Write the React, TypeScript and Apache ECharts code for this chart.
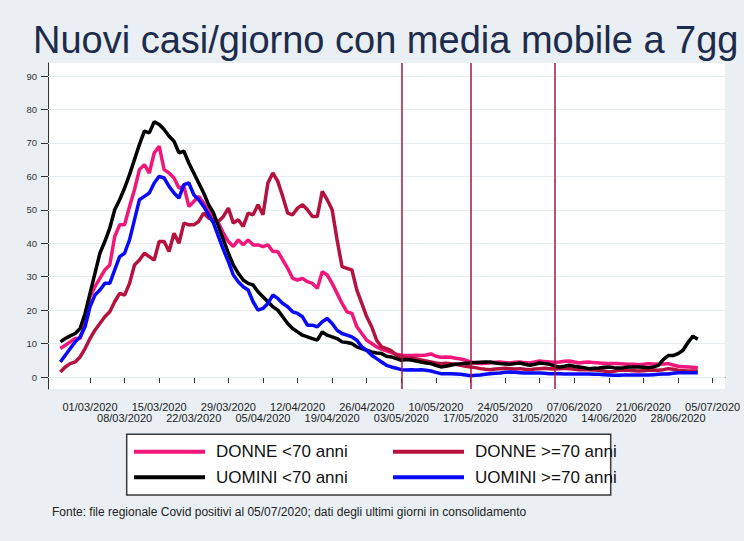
import React, { useEffect, useRef } from 'react';
import * as echarts from 'echarts';

const FONT = '"Liberation Sans", Arial, Helvetica, sans-serif';

const TITLE = 'Nuovi casi/giorno con media mobile a 7gg';
const FOOTER = 'Fonte: file regionale Covid positivi al 05/07/2020; dati degli ultimi giorni in consolidamento';

// axis runs day by day from 22/02/2020 to 07/07/2020
const AXIS_FIRST_DAY = { y: 2020, m: 2, d: 22 };
const AXIS_DAY_COUNT = 137;
// series values start on this day
const DATA_START = '24/02/2020';

const TICK_LABELS = [
  '01/03/2020', '08/03/2020', '15/03/2020', '22/03/2020', '29/03/2020',
  '05/04/2020', '12/04/2020', '19/04/2020', '26/04/2020', '03/05/2020',
  '10/05/2020', '17/05/2020', '24/05/2020', '31/05/2020', '07/06/2020',
  '14/06/2020', '21/06/2020', '28/06/2020', '05/07/2020',
];

const EVENT_DATES = ['03/05/2020', '17/05/2020', '03/06/2020'];

const SERIES_NAMES = ['DONNE <70 anni', 'DONNE >=70 anni', 'UOMINI <70 anni', 'UOMINI >=70 anni'];
const SERIES_COLORS = ['#f2157a', '#b5123f', '#000000', '#0a0afa'];

const DONNE_U70 = [
  8.5, 9.5, 10.5, 11.5, 11.5, 16,
  24, 27, 29.5, 32, 33.5, 42, 45.5, 45.5, 51, 56,
  62, 63.5, 61, 67, 69, 62, 61, 59.5, 56.5, 57,
  51, 52.5, 54, 52, 49.5, 48, 46, 43, 40.5, 39,
  41, 39.5, 41, 39.5, 39.5, 39, 39.5, 37.5, 37.5, 35,
  32.5, 29.5, 29, 29.5, 28.5, 28, 26.5, 31.5, 30.5, 28,
  25, 22, 19.5, 19, 15, 13, 11, 10, 9, 8.3,
  7.8, 7.3, 6.8, 6.5, 6.4, 6.4, 6.5, 6.4, 6.6, 6.9,
  6.2, 5.9, 6, 5.9, 5.6, 5.4, 5, 4.5, 4.2, 4,
  4.1, 4.2, 4.4, 4.5, 4.3, 4.2, 4.4, 4.5, 4.3, 4.2,
  4.5, 4.8, 4.6, 4.5, 4.4, 4.5, 4.7, 4.8, 4.5, 4.2,
  4.4, 4.5, 4.3, 4.2, 4.1, 4, 4, 4, 3.9, 3.8,
  3.8, 3.7, 3.8, 4, 3.9, 3.8, 3.9, 4, 3.6, 3.2,
  3.1, 3, 2.9, 2.8,
];

const DONNE_O70 = [
  1.5, 3, 4, 4.5, 6, 8.5,
  11.5, 14, 16, 18, 19.5, 22.5, 25, 24.5, 28, 33.5,
  35, 37, 36, 35, 40.5, 40.5, 37.5, 43, 40, 46,
  45.5, 45.5, 46.5, 49, 47.5, 47, 46.5, 48, 50.5, 46,
  47, 45, 49, 48.5, 51.5, 48.5, 58, 61, 58.5, 54,
  49, 48.5, 50.5, 51.5, 50, 48, 48, 55.5, 53, 50,
  41, 33, 32.5, 32, 26, 22, 18, 15, 11, 9,
  8.5, 7.8, 6.5, 6, 5.6, 5.7, 5.4, 5.1, 4.8, 4.5,
  4.2, 4, 4.1, 4, 3.8, 3.5, 3.2, 3, 2.8, 2.5,
  2.3, 2.2, 2.4, 2.5, 2.6, 2.5, 2.4, 2.5, 2.3, 2.2,
  2.4, 2.5, 2.6, 2.5, 2.4, 2.5, 2.6, 2.5, 2.3, 2.2,
  2.2, 2.2, 2.1, 2, 1.8, 1.5, 1.7, 2, 2.1, 2,
  1.9, 1.8, 1.9, 2, 2.1, 2, 2.2, 2.5, 2.3, 2,
  1.9, 1.8, 1.8, 1.8,
];

const UOMINI_U70 = [
  10.5, 11.5, 12.3, 13, 14.5, 19,
  25, 31, 37, 40.5, 44.5, 50, 53, 56.5, 60.5, 65,
  69.5, 73.5, 73, 76.3, 75.5, 74, 72, 70.5, 67, 67.5,
  64, 61, 58, 55, 51.5, 49, 45, 41, 37, 33.5,
  31, 29, 28, 27.5, 25.5, 24, 22.5, 21, 20, 18,
  16, 14.5, 13.5, 12.5, 12, 11.5, 11, 13.5, 12.5, 12,
  11.5, 10.5, 10.3, 10, 9, 8.5, 8, 7.5, 7.2, 7,
  6.2, 6, 5.5, 5, 5.2, 5.1, 4.8, 4.5, 4.2, 4,
  3.5, 3, 3.2, 3.5, 3.8, 4, 4.1, 4.2, 4.3, 4.4,
  4.5, 4.5, 4.2, 4, 3.9, 3.8, 4, 4.2, 3.8, 3.5,
  3.8, 4.2, 4, 3.8, 3.3, 3, 3.2, 3.5, 3.2, 3,
  2.8, 2.5, 2.6, 2.7, 2.9, 3, 2.8, 2.7, 2.8, 3,
  3, 3, 2.9, 2.8, 3, 3.5, 5.2, 6.4, 6.4, 7,
  8, 10.3, 12.2, 11.3,
];

const UOMINI_O70 = [
  4.5, 6.5, 8.5, 10.5, 12, 15,
  21, 24.5, 26, 28, 28, 32, 36, 37, 41, 47,
  53, 54, 55, 58, 60, 59.5, 57, 55, 53.5, 57.5,
  58, 54.5, 53, 51, 48.5, 46, 42, 38, 34.5, 30.5,
  28.5, 27, 26, 22.5, 20, 20.5, 22, 24.5, 23.5, 22,
  21, 19.5, 19, 18, 15.5, 15.5, 15, 16.5, 17.5, 16,
  14, 13, 12.5, 12, 11, 9, 8, 6.5, 5.5, 4.5,
  3.5, 3, 2.6, 2.2, 2.1, 2.2, 2.1, 2.2, 2, 1.8,
  1.4, 1, 1, 1, 0.9, 0.8, 0.6, 0.4, 0.5, 0.6,
  0.8, 1, 1.1, 1.2, 1.4, 1.5, 1.4, 1.3, 1.2, 1.2,
  1.2, 1.2, 1.1, 1, 1, 1, 0.9, 0.9, 0.9, 0.9,
  0.9, 0.9, 0.8, 0.8, 0.7, 0.6, 0.5, 0.5, 0.6, 0.6,
  0.6, 0.6, 0.6, 0.6, 0.7, 0.8, 0.9, 0.9, 1.1, 1.3,
  1.3, 1.3, 1.3, 1.3,
];

const SERIES_VALUES = [DONNE_U70, DONNE_O70, UOMINI_U70, UOMINI_O70];

const pad = (n: number) => (n < 10 ? '0' + n : '' + n);

function buildCategories(): string[] {
  const out: string[] = [];
  const start = new Date(AXIS_FIRST_DAY.y, AXIS_FIRST_DAY.m - 1, AXIS_FIRST_DAY.d, 12);
  for (let i = 0; i < AXIS_DAY_COUNT; i++) {
    const dt = new Date(start.getTime());
    dt.setDate(start.getDate() + i);
    out.push(pad(dt.getDate()) + '/' + pad(dt.getMonth() + 1) + '/' + dt.getFullYear());
  }
  return out;
}

export default function App() {
  const ref = useRef<HTMLDivElement>(null);

  useEffect(() => {
    if (!ref.current) return;
    const chart = echarts.init(ref.current, null, { renderer: 'svg' });

    const categories = buildCategories();
    const offset = categories.indexOf(DATA_START);
    const isTick = (index: number, value: string) => TICK_LABELS.indexOf(value) >= 0;
    const isUpperLabel = (index: number, value: string) => {
      const k = TICK_LABELS.indexOf(value);
      return k >= 0 && k % 2 === 0;
    };
    const isLowerLabel = (index: number, value: string) => {
      const k = TICK_LABELS.indexOf(value);
      return k >= 0 && k % 2 === 1;
    };

    const series: any[] = SERIES_VALUES.map((vals, si) => ({
      name: SERIES_NAMES[si],
      type: 'line',
      xAxisIndex: 0,
      yAxisIndex: 0,
      data: categories.map((_, i) => {
        const k = i - offset;
        return k >= 0 && k < vals.length ? vals[k] : null;
      }),
      showSymbol: false,
      symbol: 'none',
      color: SERIES_COLORS[si],
      itemStyle: { color: SERIES_COLORS[si] },
      lineStyle: { color: SERIES_COLORS[si], width: 3.5 },
      z: 3,
    }));

    series[0].markLine = {
      silent: true,
      symbol: 'none',
      label: { show: false },
      lineStyle: { color: '#a8173f', width: 1.5, type: 'solid' },
      data: EVENT_DATES.map((d) => ({ xAxis: d })),
    };

    const legendCommon = {
      orient: 'vertical',
      top: 443.2,
      padding: 0,
      itemWidth: 71,
      itemHeight: 4,
      itemGap: 8.6,
      icon: 'rect',
      selectedMode: false,
      textStyle: { fontSize: 17, lineHeight: 17, color: '#111', fontFamily: FONT, padding: [0, 0, 0, 6] },
    };

    const xLabelCommon = {
      fontSize: 11,
      color: '#222',
      fontFamily: FONT,
      showMinLabel: true,
      showMaxLabel: true,
    };

    const option: any = {
      animation: false,
      backgroundColor: '#e9eff3',
      textStyle: { fontFamily: FONT },
      title: [
        {
          text: TITLE,
          left: 33,
          top: 21,
          padding: 0,
          textStyle: { fontSize: 38, fontWeight: 'normal', color: '#1d2b4c', fontFamily: FONT },
        },
        {
          text: FOOTER,
          left: 52,
          top: 506,
          padding: 0,
          textStyle: { fontSize: 12, fontWeight: 'normal', color: '#222', fontFamily: FONT },
        },
      ],
      grid: [
        { left: 48, right: 19, top: 63, bottom: 152, show: true, backgroundColor: '#ffffff', borderWidth: 0 },
        { left: 48, right: 19, top: 76, bottom: 164, show: false },
      ],
      xAxis: [
        {
          type: 'category',
          gridIndex: 0,
          position: 'bottom',
          data: categories,
          boundaryGap: true,
          axisLine: { show: true, lineStyle: { color: '#333', width: 1 } },
          axisTick: { show: true, interval: isTick, alignWithLabel: true, length: 6, lineStyle: { color: '#333', width: 1 } },
          axisLabel: { ...xLabelCommon, interval: isUpperLabel, margin: 12 },
          splitLine: { show: false },
        },
        { type: 'category', gridIndex: 1, data: categories, show: false },
        {
          type: 'category',
          gridIndex: 0,
          position: 'bottom',
          data: categories,
          boundaryGap: true,
          axisLine: { show: false },
          axisTick: { show: false },
          axisLabel: { ...xLabelCommon, interval: isLowerLabel, margin: 23 },
          splitLine: { show: false },
        },
      ],
      yAxis: [
        {
          type: 'value',
          gridIndex: 0,
          min: -3.588,
          max: 93.887,
          axisLine: { show: true, lineStyle: { color: '#333', width: 1 } },
          axisTick: { show: false },
          axisLabel: { show: false },
          splitLine: { show: false },
        },
        {
          type: 'value',
          gridIndex: 1,
          min: 0,
          max: 90,
          interval: 10,
          z: 1,
          axisLine: { show: false },
          axisTick: { show: true, length: 7, lineStyle: { color: '#333' } },
          axisLabel: { fontSize: 9.5, margin: 11, color: '#333', fontFamily: FONT },
          splitLine: { show: true, lineStyle: { color: '#e6edf1', width: 1 } },
        },
      ],
      legend: [
        { ...legendCommon, left: 134, data: [SERIES_NAMES[0], SERIES_NAMES[2]] },
        { ...legendCommon, left: 393, data: [SERIES_NAMES[1], SERIES_NAMES[3]] },
      ],
      graphic: [
        {
          type: 'rect',
          z: 0,
          shape: { x: 126.7, y: 434.3, width: 484, height: 60.7 },
          style: { fill: '#ffffff', stroke: '#3a3a3a', lineWidth: 1.5 },
          silent: true,
        },
      ],
      series,
    };

    chart.setOption(option);
    return () => chart.dispose();
  }, []);

  return (
    <div
      ref={ref}
      style={{ position: 'fixed', left: 0, top: 0, width: '744px', height: '541px' }}
    />
  );
}
